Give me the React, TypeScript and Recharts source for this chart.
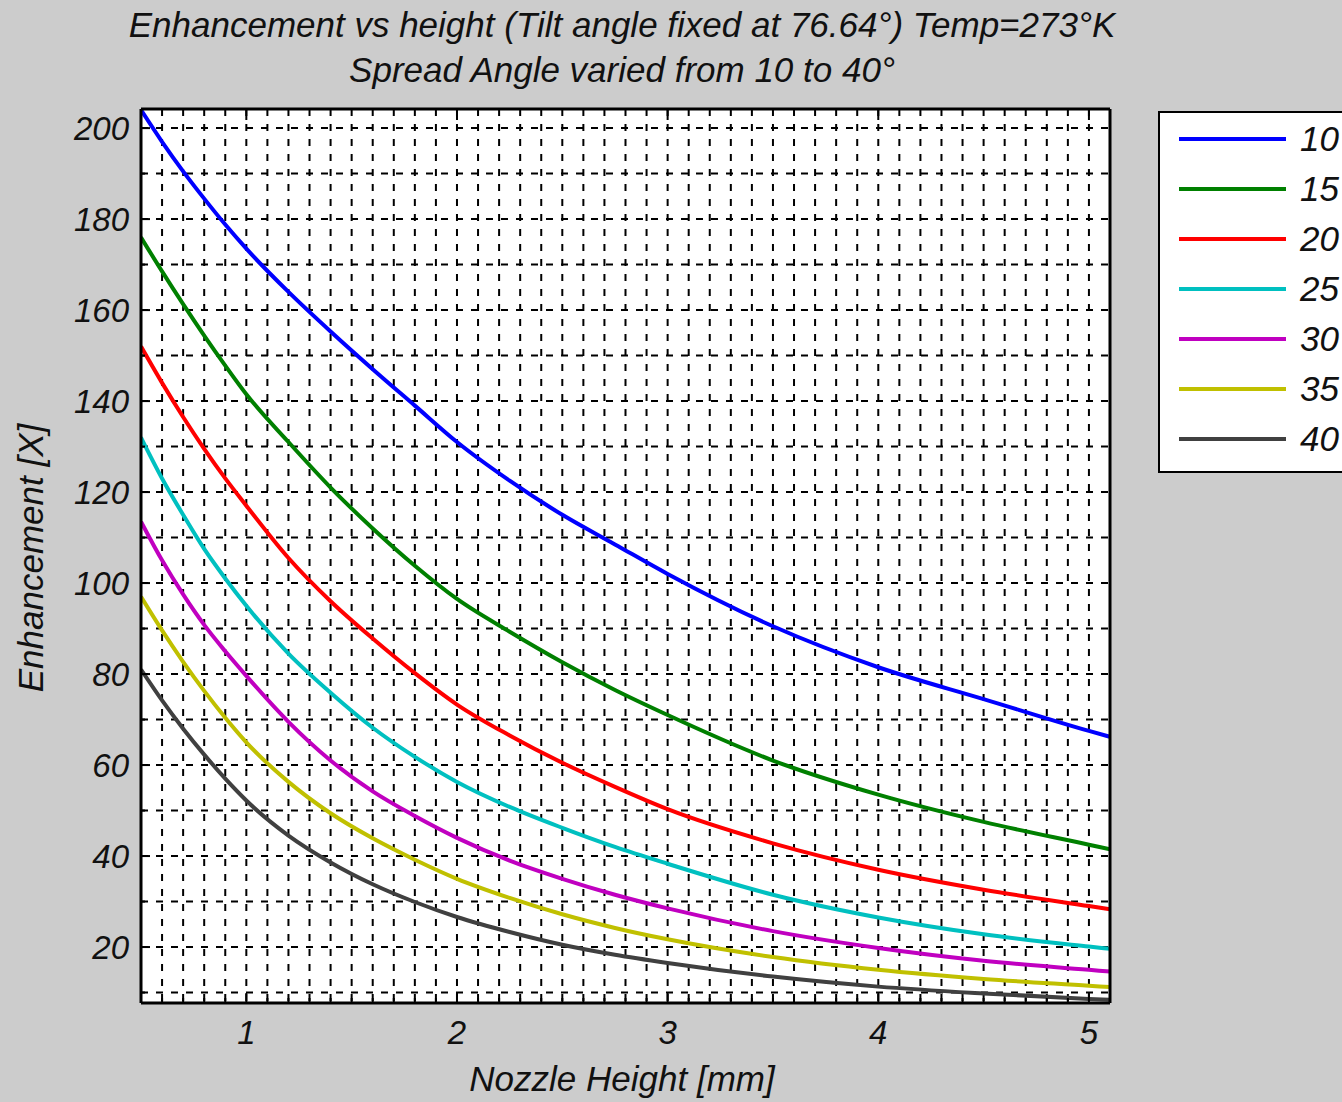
import { LineChart, Line, XAxis, YAxis, CartesianGrid } from 'recharts';

// Nozzle height [mm]
const heights = [0.5, 0.6, 0.7, 0.8, 0.9, 1.0, 1.2, 1.4, 1.6, 1.8, 2.0, 2.25, 2.5, 2.75, 3.0, 3.5, 4.0, 4.5, 5.0, 5.1];

// Enhancement [X] per spread angle
const spread10 = [204, 197, 190.5, 184.5, 178.8, 173.5, 164, 155.3, 147, 139, 131, 122.5, 115, 108.5, 102, 90.5, 81.5, 74.5, 67.5, 66.2];
const spread15 = [176, 168.5, 161.3, 154.4, 147.8, 141.5, 131, 121, 112, 103.8, 96.5, 89.3, 82.6, 76.5, 71, 61, 53.5, 47.5, 42.5, 41.5];
const spread20 = [152, 144, 136.5, 129.5, 123, 117, 105.5, 96, 87.8, 80.2, 73.3, 66.5, 60.5, 55.2, 50.3, 42.8, 37, 32.6, 29, 28.3];
const spread25 = [132, 123, 115, 107.5, 101, 95, 84.5, 75.9, 68.2, 61.8, 56.3, 50.8, 46.2, 42, 38.3, 31.5, 26.5, 22.8, 20.1, 19.6];
const spread30 = [113.5, 105, 97.5, 90.8, 85, 79.6, 69.5, 61, 54.2, 48.8, 44, 39, 35, 31.5, 28.5, 23.5, 19.8, 17, 15, 14.6];
const spread35 = [97, 89.6, 82.7, 76.3, 70.4, 65, 56.3, 49.4, 43.9, 39.2, 35, 30.8, 27.2, 24.2, 21.7, 17.8, 15, 13, 11.5, 11.2];
const spread40 = [81, 74.2, 68, 62.3, 57, 52.2, 44.5, 38.6, 33.8, 29.9, 26.6, 23.3, 20.5, 18.3, 16.5, 13.5, 11.3, 9.8, 8.6, 8.4];

const seriesNames = ['10', '15', '20', '25', '30', '35', '40'];
const seriesValues = [spread10, spread15, spread20, spread25, spread30, spread35, spread40];
const seriesColors = ['#0000ff', '#008000', '#ff0000', '#00c0c0', '#c000c0', '#c0c000', '#404040'];

const xTicks = [1, 2, 3, 4, 5];
const yTicks = [20, 40, 60, 80, 100, 120, 140, 160, 180, 200];
const X_DOMAIN: [number, number] = [0.5, 5.1];
const Y_DOMAIN: [number, number] = [7.7, 204.2];

// minor grid every 0.1 mm and every 10 units
const gridX = Array.from({ length: 45 }, (_, i) => Math.round((0.6 + i * 0.1) * 10) / 10);
const gridY = Array.from({ length: 20 }, (_, i) => 10 + i * 10);

const data = heights.map((h, i) => {
  const row: Record<string, number> = { h };
  seriesNames.forEach((name, s) => {
    row['s' + name] = seriesValues[s][i];
  });
  return row;
});

const FONT = '"Liberation Sans", Arial, sans-serif';
const textStyle = { fontFamily: FONT, fontStyle: 'italic', fontSize: 35, color: '#111' } as const;
const borderStyle = { stroke: '#000', strokeWidth: 3 };
const PLOT_TOP = 108;
const X_MARGIN = 18;
const Y_MARGIN = 12;

// bottom axis: label on whole mm, short inner tick every 0.1, long inner tick (bottom and top) on whole mm
function XTick(props: any) {
  const { x, y, payload } = props;
  const axisY = y - X_MARGIN;
  const major = xTicks.includes(payload.value);
  return (
    <g>
      <line x1={x} x2={x} y1={axisY} y2={axisY - (major ? 10 : 5)} stroke="#000" strokeWidth={2} />
      {major && <line x1={x} x2={x} y1={PLOT_TOP} y2={PLOT_TOP + 12} stroke="#000" strokeWidth={2} />}
      {major && (
        <text x={x} y={y} dy="0.71em" textAnchor="middle" fill="#111" fontFamily={FONT} fontStyle="italic" fontSize={33}>
          {payload.value}
        </text>
      )}
    </g>
  );
}

function YTick(props: any) {
  const { x, y, payload } = props;
  const axisX = x + Y_MARGIN;
  const major = yTicks.includes(payload.value);
  return (
    <g>
      <line x1={axisX} x2={axisX + (major ? 9 : 4)} y1={y} y2={y} stroke="#000" strokeWidth={2} />
      {major && (
        <text x={x} y={y} dy="0.355em" textAnchor="end" fill="#111" fontFamily={FONT} fontStyle="italic" fontSize={33}>
          {payload.value}
        </text>
      )}
    </g>
  );
}

export default function App() {
  return (
    <div style={{ position: 'absolute', left: 0, top: 0, width: 1342, height: 1102, background: '#cccccc', overflow: 'hidden' }}>
      <div style={{ ...textStyle, position: 'absolute', left: 0, width: 1244, top: 2, textAlign: 'center', lineHeight: '45px' }}>
        Enhancement vs height (Tilt angle fixed at 76.64°) Temp=273°K
        <br />
        Spread Angle varied from 10 to 40°
      </div>

      <LineChart width={1342} height={1102} data={data} margin={{ top: PLOT_TOP, left: 140, right: 231, bottom: 98 }}>
        <CartesianGrid
          verticalValues={gridX}
          horizontalValues={gridY}
          fill="#ffffff"
          stroke="#000"
          strokeWidth={2}
          strokeDasharray="7 8"
        />
        <XAxis
          dataKey="h"
          type="number"
          domain={X_DOMAIN}
          allowDataOverflow
          ticks={gridX}
          interval={0}
          height={1}
          tickSize={0}
          tickMargin={X_MARGIN}
          tick={XTick}
          tickLine={false}
          axisLine={borderStyle}
        />
        <XAxis xAxisId="top" orientation="top" type="number" domain={X_DOMAIN} allowDataOverflow height={1} tick={false} tickLine={false} axisLine={borderStyle} />
        <YAxis
          type="number"
          domain={Y_DOMAIN}
          allowDataOverflow
          ticks={gridY}
          interval={0}
          width={1}
          tickSize={0}
          tickMargin={Y_MARGIN}
          tick={YTick}
          tickLine={false}
          axisLine={borderStyle}
        />
        <YAxis yAxisId="right" orientation="right" type="number" domain={Y_DOMAIN} allowDataOverflow width={1} tick={false} tickLine={false} axisLine={borderStyle} />
        {seriesNames.map((name, s) => (
          <Line
            key={name}
            dataKey={'s' + name}
            type="monotone"
            stroke={seriesColors[s]}
            strokeWidth={4}
            dot={false}
            isAnimationActive={false}
          />
        ))}
      </LineChart>

      <div style={{ ...textStyle, position: 'absolute', left: 0, width: 1244, top: 1059, textAlign: 'center' }}>
        Nozzle Height [mm]
      </div>
      <div
        style={{
          ...textStyle,
          position: 'absolute',
          left: 31,
          top: 558,
          whiteSpace: 'nowrap',
          transform: 'translate(-50%, -50%) rotate(-90deg)',
        }}
      >
        Enhancement [X]
      </div>

      <div
        style={{
          position: 'absolute',
          left: 1158,
          top: 111,
          width: 240,
          height: 362,
          boxSizing: 'border-box',
          border: '2px solid #000',
          background: '#fff',
        }}
      >
        {seriesNames.map((name, s) => (
          <div key={name} style={{ position: 'absolute', left: 19, top: 6 + s * 50, height: 40, display: 'flex', alignItems: 'center' }}>
            <div style={{ width: 107, height: 4, background: seriesColors[s] }} />
            <span style={{ ...textStyle, marginLeft: 14 }}>{name}</span>
          </div>
        ))}
      </div>
    </div>
  );
}
